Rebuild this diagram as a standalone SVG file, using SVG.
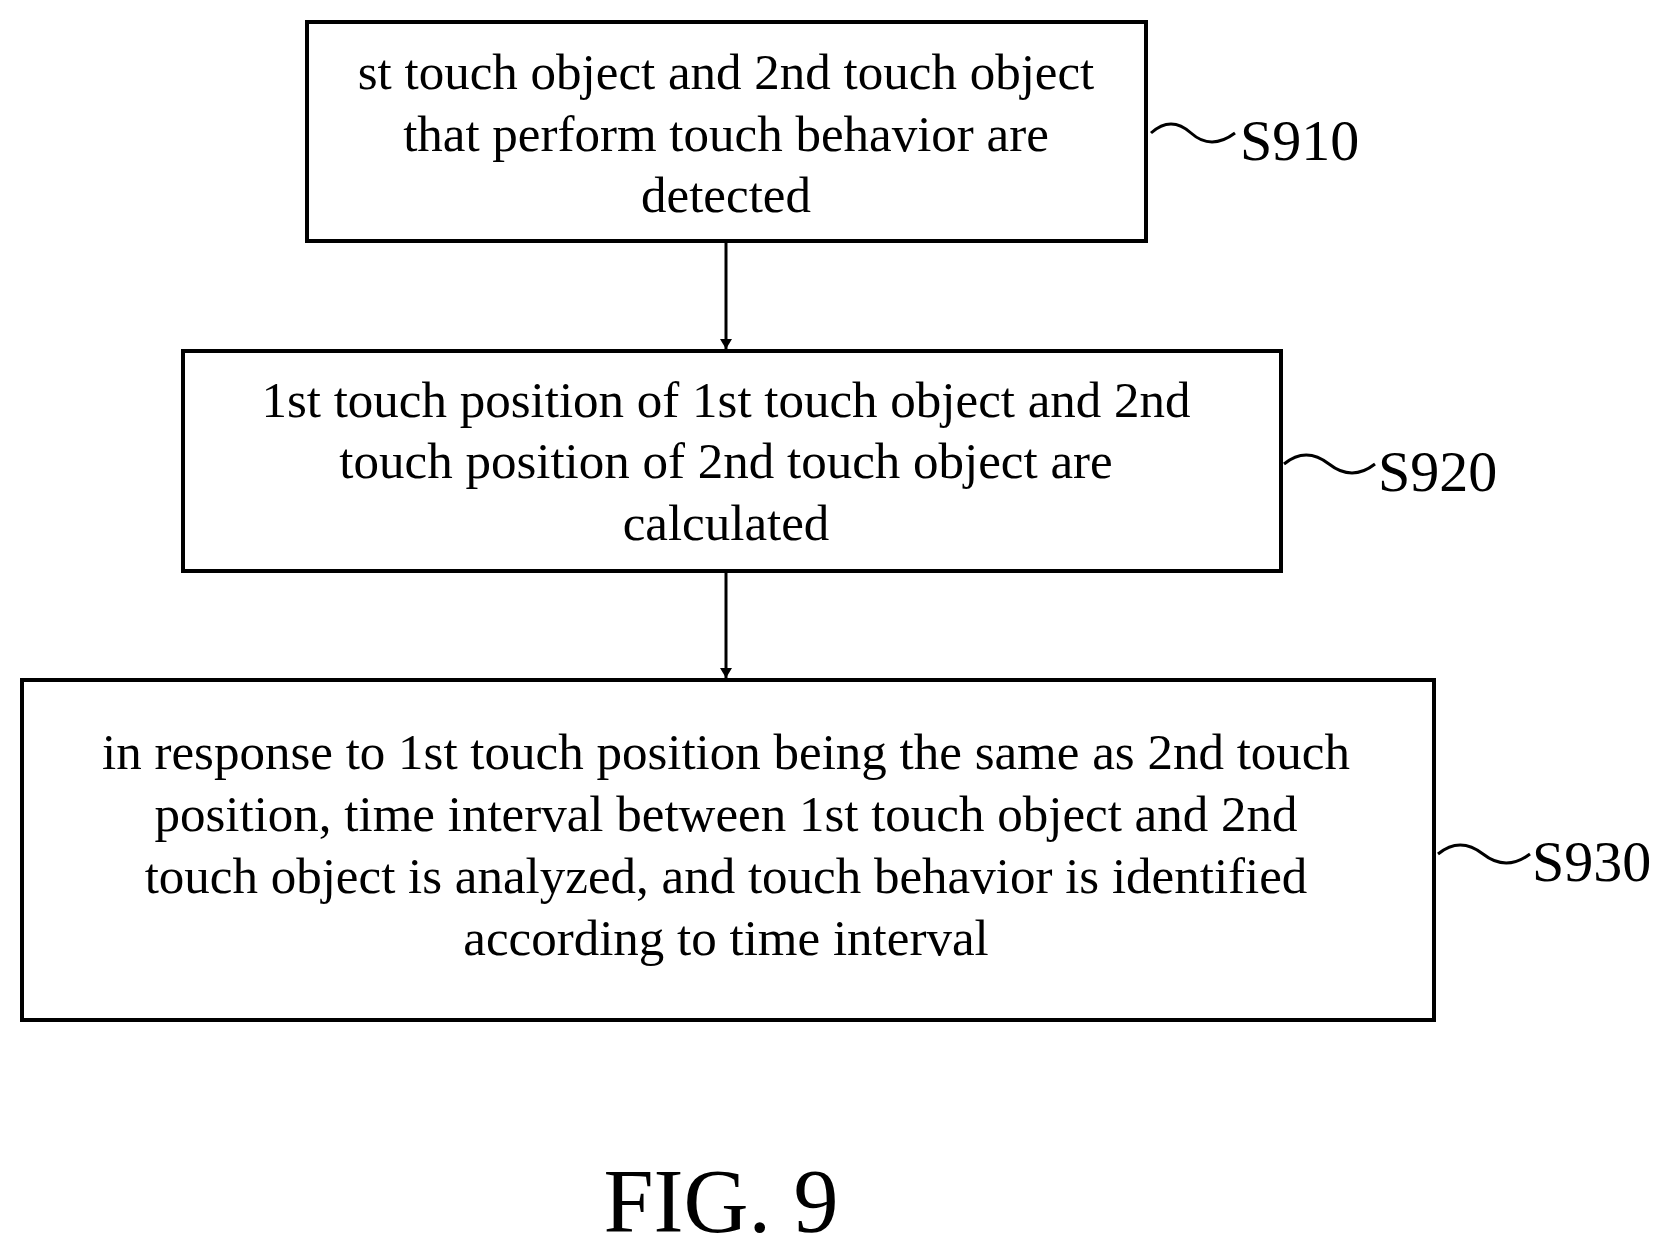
<svg xmlns="http://www.w3.org/2000/svg" width="1657" height="1250" viewBox="0 0 1657 1250">
<style>
.b{fill:#fff;stroke:#000;stroke-width:4}
.t{font-family:"Liberation Serif",serif;font-size:51px;text-anchor:middle;fill:#000}
.l{font-family:"Liberation Serif",serif;font-size:58px;fill:#000}
.c{fill:none;stroke:#000;stroke-width:3}
</style>
<defs><marker id="a" markerWidth="10" markerHeight="12" refX="10" refY="6" orient="auto" markerUnits="userSpaceOnUse" viewBox="0 0 10 12"><path d="M0,0L10,6L0,12z"/></marker></defs>
<rect width="1657" height="1250" fill="#fff"/>
<g id="n1"><rect class="b" x="307" y="22" width="839" height="219"/>
<text class="t" x="726" y="89">st touch object and 2nd touch object</text>
<text class="t" x="726" y="151">that perform touch behavior are</text>
<text class="t" x="726" y="212">detected</text></g>
<g id="n2"><rect class="b" x="183" y="351" width="1098" height="220"/>
<text class="t" x="726" y="417">1st touch position of 1st touch object and 2nd</text>
<text class="t" x="726" y="478">touch position of 2nd touch object are</text>
<text class="t" x="726" y="540">calculated</text></g>
<g id="n3"><rect class="b" x="22" y="680" width="1412" height="340"/>
<text class="t" x="726" y="769">in response to 1st touch position being the same as 2nd touch</text>
<text class="t" x="726" y="831">position, time interval between 1st touch object and 2nd</text>
<text class="t" x="726" y="893">touch object is analyzed, and touch behavior is identified</text>
<text class="t" x="726" y="955">according to time interval</text></g>
<g id="labels">
<path class="c" d="M1151,133 q20,-18 40,0 t44,0"/><text class="l" x="1240" y="160">S910</text>
<path class="c" d="M1284,464 q22,-18 45,0 t46,0"/><text class="l" x="1378" y="491">S920</text>
<path class="c" d="M1438,854 q22,-18 45,0 t47,0"/><text class="l" x="1532" y="881">S930</text>
</g>
<g id="connectors">
<line class="c" x1="726" y1="241" x2="726" y2="349" marker-end="url(#a)"/>
<line class="c" x1="726" y1="571" x2="726" y2="678" marker-end="url(#a)"/>
</g>
<text x="721" y="1232" style="font-family:'Liberation Serif',serif;font-size:90px;text-anchor:middle">FIG. 9</text>
</svg>
